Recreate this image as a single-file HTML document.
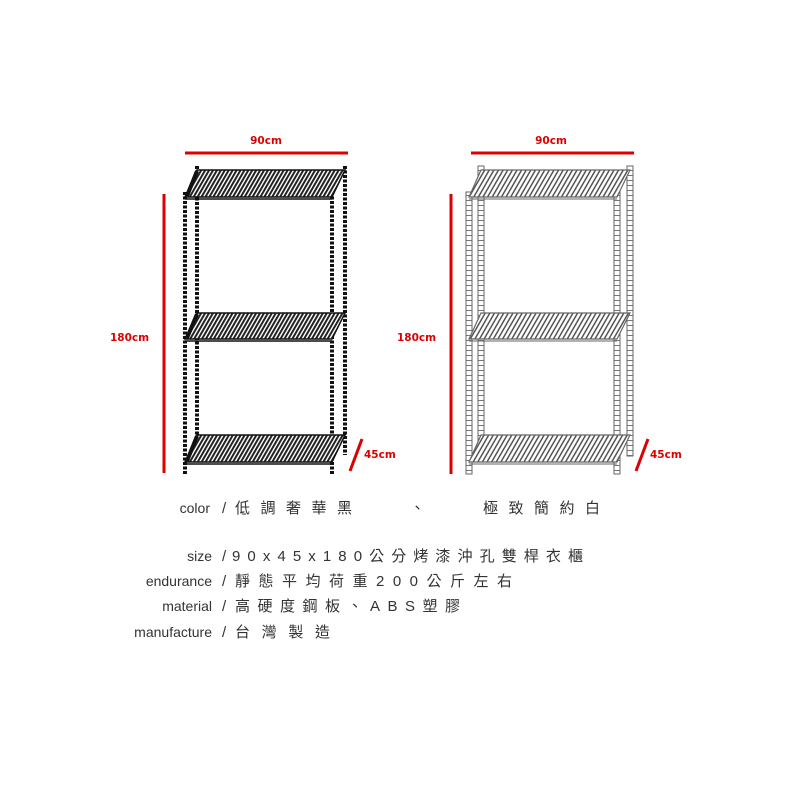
<!DOCTYPE html>
<html><head><meta charset="utf-8"><style>
body{margin:0;background:#fff}
svg{display:block}
.t{font-family:"Liberation Sans","Noto Sans CJK TC",sans-serif;font-size:15px;fill:#333}
.l{font-size:14px}
.r{font-family:"DejaVu Sans","Liberation Sans",sans-serif;font-size:10.5px;font-weight:bold;fill:#d00}
</style></head><body>
<svg width="800" height="800" viewBox="0 0 800 800" xmlns="http://www.w3.org/2000/svg">
<defs>
<pattern id="hb" width="3.4" height="4" patternUnits="userSpaceOnUse" patternTransform="rotate(30)">
<rect width="3.4" height="4" fill="#fff"/><rect width="2" height="4" fill="#222"/></pattern>
<pattern id="hw" width="4" height="5" patternUnits="userSpaceOnUse" patternTransform="rotate(30)">
<rect width="4" height="5" fill="#fff"/><rect width="1.5" height="5" fill="#555"/></pattern>
<pattern id="lad" width="6" height="5" patternUnits="userSpaceOnUse">
<rect width="6" height="5" fill="#fff"/><line x1="0" y1="0.5" x2="6" y2="0.5" stroke="#777" stroke-width="1"/></pattern>
</defs>

<line x1="185" y1="153" x2="348" y2="153" stroke="#d00" stroke-width="3"/>
<text x="266" y="144" class="r" text-anchor="middle">90cm</text>
<line x1="164" y1="194" x2="164" y2="473" stroke="#d00" stroke-width="3"/>
<text x="110" y="341" class="r">180cm</text>
<line x1="350" y1="471" x2="362" y2="439" stroke="#d00" stroke-width="3"/>
<text x="364" y="458" class="r">45cm</text>

<g stroke="#111" stroke-width="4" stroke-dasharray="3 1.5">
<line x1="197" y1="166" x2="197" y2="440"/>
<line x1="345" y1="166" x2="345" y2="455"/>
<line x1="185" y1="192" x2="185" y2="474"/>
<line x1="332" y1="192" x2="332" y2="474"/>
</g>
<g stroke="#111" stroke-width="1.5">
<polygon points="197,170 345,170 332,197 185,197" fill="url(#hb)"/>
<polygon points="197,313 345,313 332,339 185,339" fill="url(#hb)"/>
<polygon points="197,435 345,435 332,462 185,462" fill="url(#hb)"/>
</g>
<g stroke="#111" stroke-width="4">
<line x1="197" y1="171" x2="187" y2="196"/>
<line x1="197" y1="314" x2="187" y2="338"/>
<line x1="197" y1="436" x2="187" y2="461"/>
</g>
<g stroke="#111" stroke-width="1.5" fill="none">
<line x1="185" y1="199" x2="332" y2="199"/>
<line x1="185" y1="341" x2="332" y2="341"/>
<line x1="185" y1="464" x2="332" y2="464"/>
</g>

<line x1="471" y1="153" x2="634" y2="153" stroke="#d00" stroke-width="3"/>
<text x="551" y="144" class="r" text-anchor="middle">90cm</text>
<line x1="451" y1="194" x2="451" y2="474" stroke="#d00" stroke-width="3"/>
<text x="397" y="341" class="r">180cm</text>
<line x1="636" y1="471" x2="648" y2="439" stroke="#d00" stroke-width="3"/>
<text x="650" y="458" class="r">45cm</text>

<g stroke="#666" stroke-width="1" fill="url(#lad)">
<rect x="478" y="166" width="6" height="276"/>
<rect x="627" y="166" width="6" height="290"/>
<rect x="466" y="192" width="6" height="282"/>
<rect x="614" y="192" width="6" height="282"/>
</g>
<g stroke="#666" stroke-width="1.2">
<polygon points="481,170 630,170 617,197 469,197" fill="url(#hw)"/>
<polygon points="481,313 630,313 617,339 469,339" fill="url(#hw)"/>
<polygon points="481,435 630,435 617,462 469,462" fill="url(#hw)"/>
</g>
<g stroke="#666" stroke-width="1" fill="none">
<line x1="469" y1="199" x2="617" y2="199"/>
<line x1="469" y1="341" x2="617" y2="341"/>
<line x1="469" y1="464" x2="617" y2="464"/>
</g>

<text class="t l" x="210" y="513" text-anchor="end">color</text>
<text class="t" x="222" y="513">/</text>
<text class="t" x="235" y="513" textLength="117">低調奢華黑</text>
<text class="t" x="410" y="513">、</text>
<text class="t" x="483" y="513" textLength="117">極致簡約白</text>

<text class="t l" x="212" y="561" text-anchor="end">size</text>
<text class="t" x="222" y="561">/</text>
<text class="t" x="232" y="561" textLength="351">90x45x180公分烤漆沖孔雙桿衣櫃</text>

<text class="t l" x="212" y="586" text-anchor="end">endurance</text>
<text class="t" x="222" y="586">/</text>
<text class="t" x="235" y="586" textLength="277">靜態平均荷重200公斤左右</text>

<text class="t l" x="212" y="611" text-anchor="end">material</text>
<text class="t" x="222" y="611">/</text>
<text class="t" x="235" y="611" textLength="225">高硬度鋼板、ABS塑膠</text>

<text class="t l" x="212" y="637" text-anchor="end">manufacture</text>
<text class="t" x="222" y="637">/</text>
<text class="t" x="235" y="637" textLength="95">台灣製造</text>
</svg>
</body></html>
